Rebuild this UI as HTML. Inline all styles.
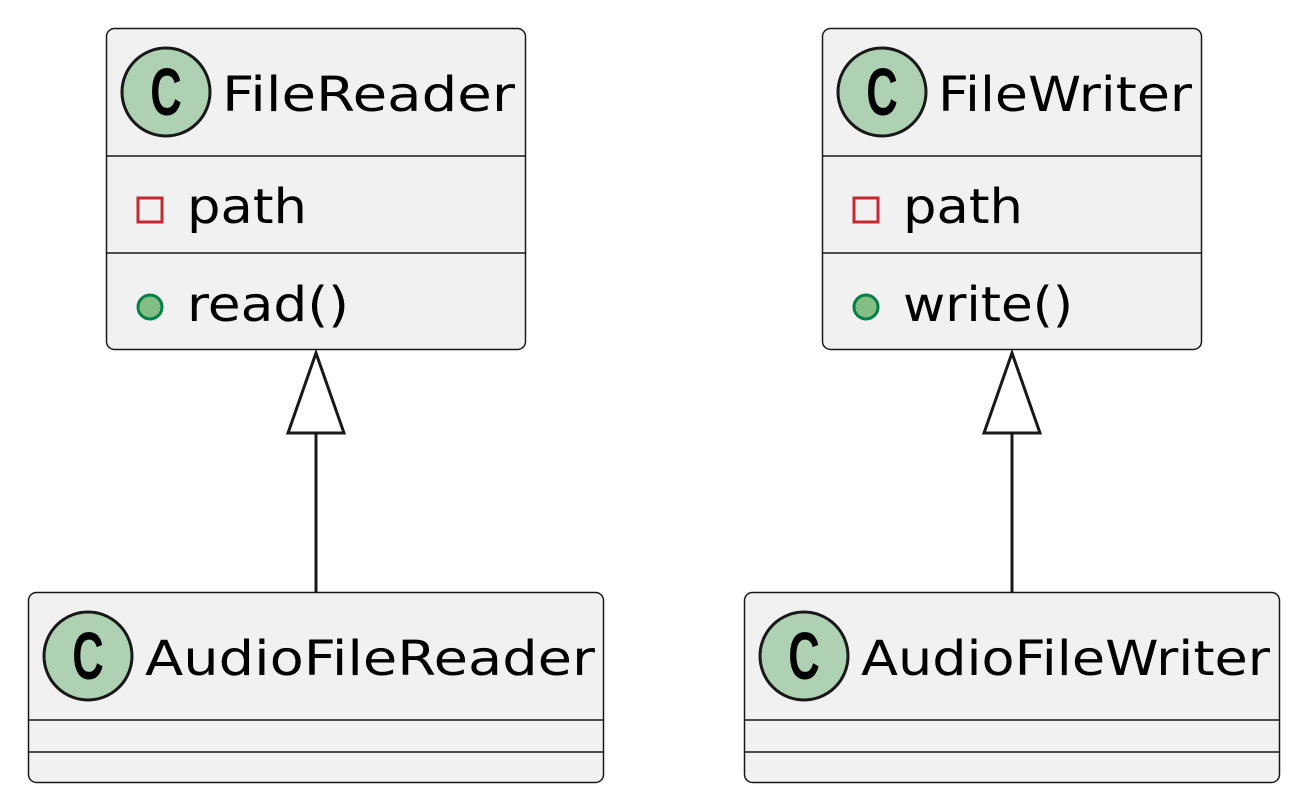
<!DOCTYPE html>
<html><head><meta charset="utf-8"><style>html,body{margin:0;padding:0;background:#fff}svg{display:block}</style></head><body>
<svg width="1304" height="808" viewBox="0 0 1304 808" xmlns="http://www.w3.org/2000/svg" font-family="'DejaVu Sans','Liberation Sans',sans-serif">
<defs>
<g id="cicon"><circle r="44" fill="#ADD1B2" stroke="#181818" stroke-width="3"/><text x="0" y="0" transform="translate(0,23) scale(0.78,1.2)" text-anchor="middle" font-size="56" font-weight="bold" font-family="'Liberation Sans',sans-serif" fill="#000">C</text></g>
</defs>
<!-- FileReader -->
<rect x="106.5" y="28.5" width="419" height="321" rx="8" fill="#F1F1F1" stroke="#181818" stroke-width="1.5"/>
<use href="#cicon" x="166" y="92"/>
<text x="222" y="111" font-size="48" textLength="293" lengthAdjust="spacingAndGlyphs">FileReader</text>
<line x1="107" y1="156" x2="525" y2="156" stroke="#181818" stroke-width="1.5"/>
<rect x="138" y="198" width="24" height="24" fill="none" stroke="#C82930" stroke-width="3"/>
<text x="187" y="223" font-size="48" textLength="120" lengthAdjust="spacingAndGlyphs">path</text>
<line x1="107" y1="253" x2="525" y2="253" stroke="#181818" stroke-width="1.5"/>
<circle cx="150" cy="307" r="12" fill="#84BE84" stroke="#038048" stroke-width="3"/>
<text x="187" y="321" font-size="48" textLength="162" lengthAdjust="spacingAndGlyphs">read()</text>
<!-- FileWriter -->
<rect x="822.5" y="28.5" width="379" height="321" rx="8" fill="#F1F1F1" stroke="#181818" stroke-width="1.5"/>
<use href="#cicon" x="882" y="92"/>
<text x="938" y="111" font-size="48" textLength="254" lengthAdjust="spacingAndGlyphs">FileWriter</text>
<line x1="823" y1="156" x2="1201" y2="156" stroke="#181818" stroke-width="1.5"/>
<rect x="854" y="198" width="24" height="24" fill="none" stroke="#C82930" stroke-width="3"/>
<text x="903" y="223" font-size="48" textLength="120" lengthAdjust="spacingAndGlyphs">path</text>
<line x1="823" y1="253" x2="1201" y2="253" stroke="#181818" stroke-width="1.5"/>
<circle cx="866" cy="307" r="12" fill="#84BE84" stroke="#038048" stroke-width="3"/>
<text x="903" y="321" font-size="48" textLength="170" lengthAdjust="spacingAndGlyphs">write()</text>
<!-- AudioFileReader -->
<rect x="28.5" y="592.5" width="575" height="190" rx="8" fill="#F1F1F1" stroke="#181818" stroke-width="1.5"/>
<use href="#cicon" x="88" y="656"/>
<text x="145" y="675" font-size="48" textLength="450" lengthAdjust="spacingAndGlyphs">AudioFileReader</text>
<line x1="29" y1="720" x2="603" y2="720" stroke="#181818" stroke-width="1.5"/>
<line x1="29" y1="752" x2="603" y2="752" stroke="#181818" stroke-width="1.5"/>
<!-- AudioFileWriter -->
<rect x="744.5" y="592.5" width="535" height="190" rx="8" fill="#F1F1F1" stroke="#181818" stroke-width="1.5"/>
<use href="#cicon" x="804" y="656"/>
<text x="861" y="675" font-size="48" textLength="409" lengthAdjust="spacingAndGlyphs">AudioFileWriter</text>
<line x1="745" y1="720" x2="1279" y2="720" stroke="#181818" stroke-width="1.5"/>
<line x1="745" y1="752" x2="1279" y2="752" stroke="#181818" stroke-width="1.5"/>
<!-- arrows -->
<line x1="316" y1="433" x2="316" y2="592" stroke="#181818" stroke-width="3"/>
<polygon points="316,353 288,433 344,433" fill="none" stroke="#181818" stroke-width="3"/>
<line x1="1012" y1="433" x2="1012" y2="592" stroke="#181818" stroke-width="3"/>
<polygon points="1012,353 984,433 1040,433" fill="none" stroke="#181818" stroke-width="3"/>
</svg>
</body></html>
